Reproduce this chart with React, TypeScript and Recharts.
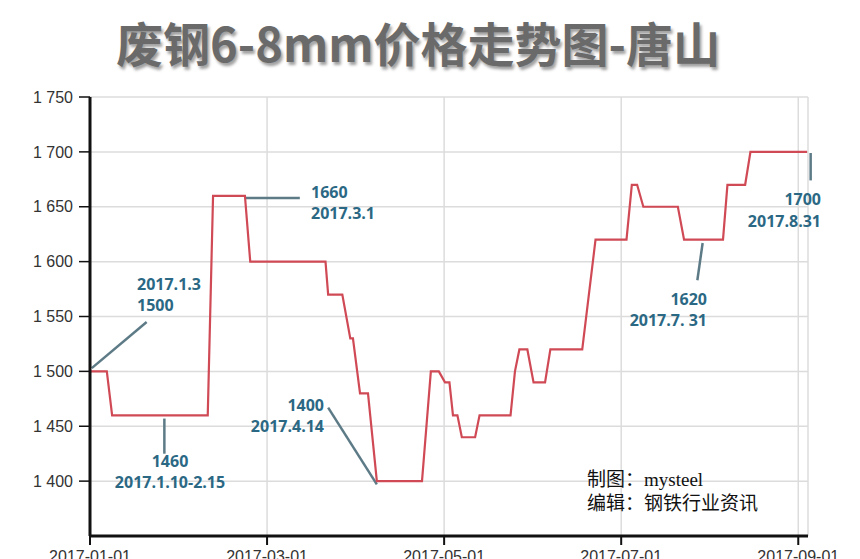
import { LineChart, Line, XAxis, YAxis, CartesianGrid, ReferenceLine } from 'recharts';

// x is measured in months from 2017-01-01 (the source axis spaces months evenly)
const monthPos = [
  0.0, 0.19, 0.25, 1.33, 1.39, 1.75, 1.81, 2.66, 2.69, 2.85, 2.94, 2.97, 3.05, 3.14, 3.24, 3.75,
  3.85, 3.94, 4.01, 4.06, 4.1, 4.15, 4.2, 4.35, 4.4, 4.75, 4.8, 4.85, 4.94, 5.01, 5.14, 5.2,
  5.56, 5.71, 6.06, 6.12, 6.18, 6.25, 6.64, 6.71, 7.15, 7.2, 7.4, 7.46, 8.1,
];
const price = [
  1500, 1500, 1460, 1460, 1660, 1660, 1600, 1600, 1570, 1570, 1530, 1530, 1480, 1480, 1400, 1400,
  1500, 1500, 1490, 1490, 1460, 1460, 1440, 1440, 1460, 1460, 1500, 1520, 1520, 1490, 1490, 1520,
  1520, 1620, 1620, 1670, 1670, 1650, 1650, 1620, 1620, 1670, 1670, 1700, 1700,
];

const xTicks = [0, 2, 4, 6, 8];
const xTickLabels = ['2017-01-01', '2017-03-01', '2017-05-01', '2017-07-01', '2017-09-01'];
const yTicks = [1400, 1450, 1500, 1550, 1600, 1650, 1700, 1750];

// leader lines: [x1, y1, x2, y2] in data units
const leaders = [
  [0.02, 1503, 0.64, 1545],
  [0.84, 1457, 0.84, 1425],
  [1.75, 1658, 2.37, 1658],
  [2.69, 1467, 3.24, 1397],
  [6.92, 1617, 6.86, 1583],
  [8.14, 1699, 8.14, 1674],
];

const noteTexts = [
  ['2017.1.3', '1500'],
  ['1460', '2017.1.10-2.15'],
  ['1660', '2017.3.1'],
  ['1400', '2017.4.14'],
  ['1620', '2017.7. 31'],
  ['1700', '2017.8.31'],
];

const noteLayout: { left: number; top: number; width: number; align: 'left' | 'center' | 'right'; lh: number }[] = [
  { left: 137, top: 274, width: 100, align: 'left', lh: 21 },
  { left: 90, top: 451, width: 160, align: 'center', lh: 21 },
  { left: 311, top: 182, width: 100, align: 'left', lh: 21 },
  { left: 224, top: 395, width: 100, align: 'right', lh: 21 },
  { left: 587, top: 289, width: 120, align: 'right', lh: 21 },
  { left: 701, top: 188, width: 120, align: 'right', lh: 22 },
];

const data = monthPos.map((m, i) => ({ m, p: price[i] }));

const fmtY = (v: number) => `${Math.floor(v / 1000)} ${String(v % 1000).padStart(3, '0')}`;
const fmtX = (v: number) => xTickLabels[xTicks.indexOf(v)] ?? '';

export default function App() {
  return (
    <div style={{ position: 'absolute', left: 0, top: 0, width: 860, height: 559, overflow: 'hidden', background: '#fff' }}>
      <div
        style={{
          position: 'absolute',
          left: 0,
          top: 15,
          width: 836,
          textAlign: 'center',
          fontFamily: "'Noto Sans CJK SC', sans-serif",
          fontWeight: 700,
          fontSize: 47,
          lineHeight: '54px',
          color: '#6a6a6a',
          textShadow: '2px 3px 3px #a0a0a0',
          whiteSpace: 'nowrap',
        }}
      >
        废钢6-8mm价格走势图-唐山
      </div>

      <LineChart width={860} height={580} data={data} margin={{ top: 97, right: 52, bottom: 14, left: 0 }}>
        <CartesianGrid stroke="#dcdcdc" strokeWidth={1.5} />
        <XAxis
          type="number"
          dataKey="m"
          domain={[0, 8.11]}
          ticks={xTicks}
          tickFormatter={fmtX}
          height={30}
          tickSize={9}
          tickMargin={6}
          axisLine={{ stroke: '#111', strokeWidth: 3 }}
          tickLine={{ stroke: '#111', strokeWidth: 2 }}
          tick={{ fill: '#333', fontSize: 16, fontFamily: "'Liberation Sans', Arial, sans-serif" }}
        />
        <YAxis
          type="number"
          domain={[1350, 1750]}
          ticks={yTicks}
          tickFormatter={fmtY}
          width={90}
          tickSize={11}
          tickMargin={6}
          axisLine={{ stroke: '#111', strokeWidth: 3 }}
          tickLine={{ stroke: '#111', strokeWidth: 1.5 }}
          tick={{ fill: '#333', fontSize: 16, fontFamily: "'Liberation Sans', Arial, sans-serif" }}
        />
        {leaders.map((s, i) => (
          <ReferenceLine
            key={i}
            segment={[{ x: s[0], y: s[1] }, { x: s[2], y: s[3] }]}
            stroke="#5d7b87"
            strokeWidth={2.5}
            ifOverflow="visible"
          />
        ))}
        <Line
          type="linear"
          dataKey="p"
          stroke="#d04a56"
          strokeWidth={2.2}
          dot={false}
          isAnimationActive={false}
        />
      </LineChart>

      {noteTexts.map((lines, i) => {
        const l = noteLayout[i];
        return (
          <div
            key={i}
            style={{
              position: 'absolute',
              left: l.left,
              top: l.top,
              width: l.width,
              textAlign: l.align,
              fontFamily: "'Open Sans', sans-serif",
              fontWeight: 700,
              fontSize: 16,
              lineHeight: `${l.lh}px`,
              color: '#2b6884',
              whiteSpace: 'nowrap',
            }}
          >
            {lines.map((t, j) => (
              <div key={j}>{t}</div>
            ))}
          </div>
        );
      })}

      <div
        style={{
          position: 'absolute',
          left: 587,
          top: 468,
          fontFamily: "'Liberation Serif', 'Noto Sans CJK SC', serif",
          fontSize: 19,
          lineHeight: '24px',
          color: '#111',
          whiteSpace: 'nowrap',
        }}
      >
        <div>制图：mysteel</div>
        <div>编辑：钢铁行业资讯</div>
      </div>
    </div>
  );
}
